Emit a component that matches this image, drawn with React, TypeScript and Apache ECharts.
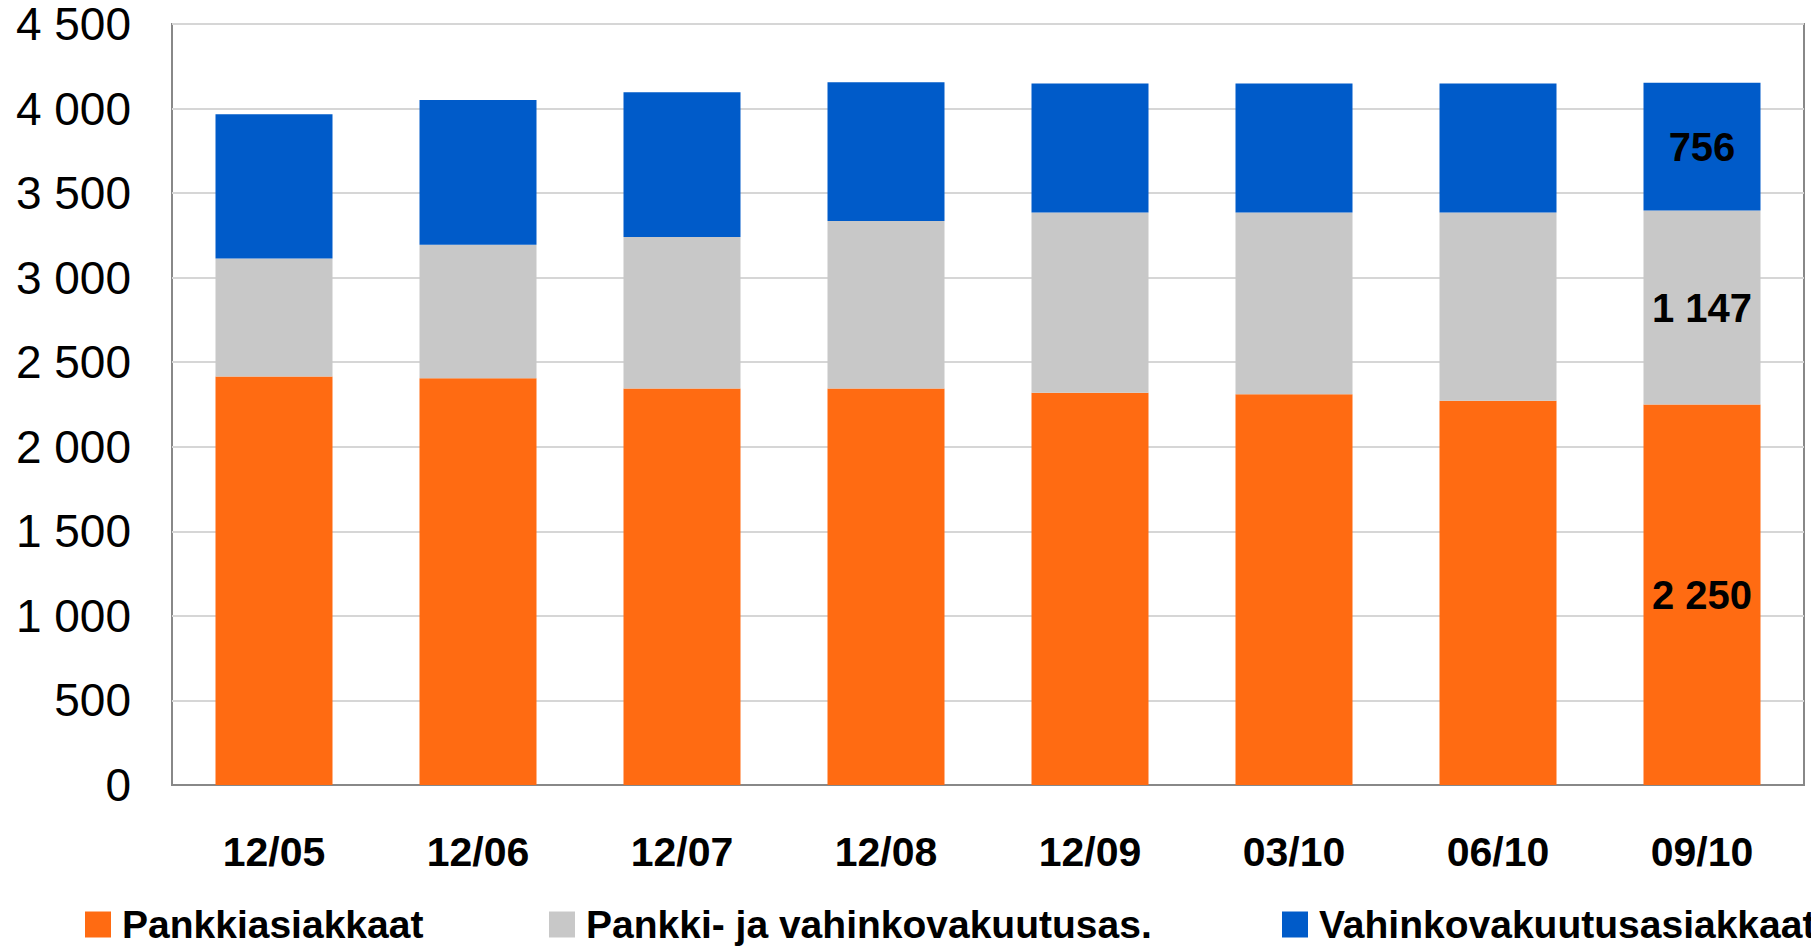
import React, { useEffect, useRef } from "react";
import * as echarts from "echarts";

const categories = ["12/05", "12/06", "12/07", "12/08", "12/09", "03/10", "06/10", "09/10"];
const seriesNames = ["Pankkiasiakkaat", "Pankki- ja vahinkovakuutusas.", "Vahinkovakuutusasiakkaat"];
const bankValues = [2415, 2405, 2345, 2345, 2320, 2310, 2272, 2250];
const bankInsValues = [698, 790, 896, 990, 1065, 1075, 1113, 1147];
const insValues = [853, 855, 856, 820, 763, 763, 763, 756];
const colors = ["#FF6B12", "#C8C8C8", "#005BC9"];
const yTicks = { min: 0, max: 4500, interval: 500 };

const FONT = "'Liberation Sans', Arial, sans-serif";
const fmt = (v: number) => String(Math.round(v)).replace(/\B(?=(\d{3})+(?!\d))/g, " ");

export default function App() {
  const ref = useRef<HTMLDivElement>(null);
  useEffect(() => {
    if (!ref.current) return;
    const chart = echarts.init(ref.current, undefined, { renderer: "svg" });
    const allValues = [bankValues, bankInsValues, insValues];
    const lastIdx = categories.length - 1;
    const legendLefts = [80, 544, 1277];
    chart.setOption({
      animation: false,
      backgroundColor: "#ffffff",
      grid: {
        left: 172,
        right: 7,
        top: 24,
        bottom: 162,
        show: true,
        borderColor: "#888888",
        borderWidth: 2,
        containLabel: false,
      },
      legend: seriesNames.map((n, i) => ({
        data: [n],
        left: legendLefts[i],
        top: 900,
        itemWidth: 26,
        itemHeight: 26,
        icon: "rect",
        textStyle: {
          fontFamily: FONT,
          fontWeight: "bold",
          fontSize: 39,
          color: "#000",
          padding: [0, 0, 0, 6],
        },
      })),
      xAxis: {
        type: "category",
        data: categories,
        axisLine: { show: true, lineStyle: { color: "#888888", width: 2 } },
        axisTick: { show: false },
        axisLabel: {
          fontFamily: FONT,
          fontWeight: "bold",
          fontSize: 41,
          color: "#000",
          margin: 46,
        },
      },
      yAxis: {
        type: "value",
        min: yTicks.min,
        max: yTicks.max,
        interval: yTicks.interval,
        axisLine: { show: false },
        axisTick: { show: false },
        splitLine: { lineStyle: { color: "#d6d6d6", width: 2 } },
        axisLabel: {
          fontFamily: FONT,
          fontSize: 46,
          color: "#000",
          margin: 41,
          formatter: (v: number) => fmt(v),
        },
      },
      series: seriesNames.map((n, i) => ({
        name: n,
        type: "bar",
        stack: "total",
        barWidth: 117,
        data: allValues[i],
        itemStyle: { color: colors[i] },
        label: {
          show: true,
          position: "inside",
          fontFamily: FONT,
          fontWeight: "bold",
          fontSize: 40,
          color: "#000",
          formatter: (p: any) => (p.dataIndex === lastIdx ? fmt(p.value) : ""),
        },
      })),
    });
    return () => chart.dispose();
  }, []);
  return (
    <div
      ref={ref}
      style={{ position: "fixed", left: 0, top: 0, width: 1811, height: 947 }}
    />
  );
}
